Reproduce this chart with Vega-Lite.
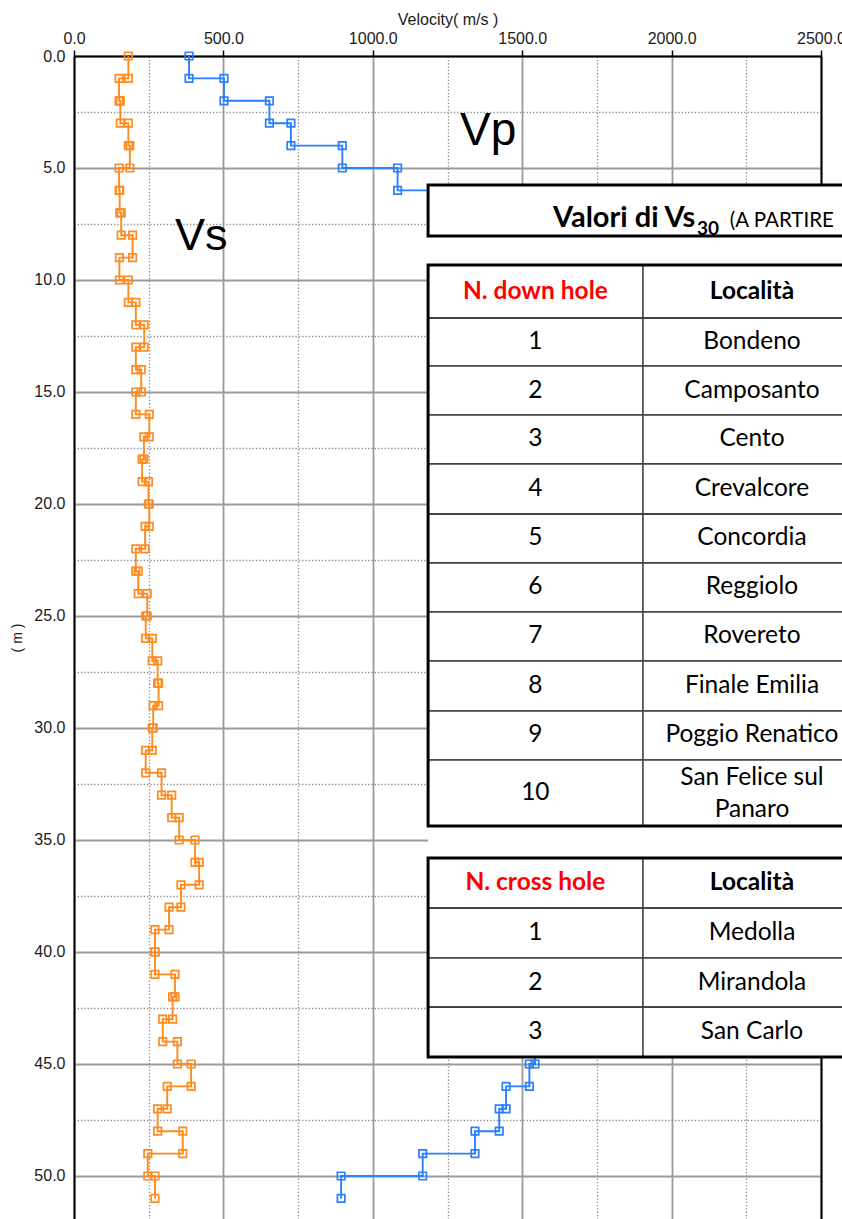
{
  "$schema": "https://vega.github.io/schema/vega-lite/v6.json",
  "width": 747,
  "height": 1163,
  "autosize": {"type": "none"},
  "padding": {"left": 74, "top": 56, "right": 21, "bottom": 0},
  "background": "white",
  "config": {
    "view": {"stroke": null},
    "font": "Liberation Sans",
    "axis": {"labelFont": "Liberation Sans", "titleFont": "Liberation Sans"}
  },
  "datasets": {
    "profile": [
      {"top": 0, "bottom": 1, "vs": 182, "vp": 385},
      {"top": 1, "bottom": 2, "vs": 151, "vp": 502},
      {"top": 2, "bottom": 3, "vs": 155, "vp": 654},
      {"top": 3, "bottom": 4, "vs": 182, "vp": 726},
      {"top": 4, "bottom": 5, "vs": 187, "vp": 898},
      {"top": 5, "bottom": 6, "vs": 151, "vp": 1083},
      {"top": 6, "bottom": 7, "vs": 153, "vp": 1240},
      {"top": 7, "bottom": 8, "vs": 158, "vp": 1265},
      {"top": 8, "bottom": 9, "vs": 196, "vp": 1300},
      {"top": 9, "bottom": 10, "vs": 152, "vp": 1320},
      {"top": 10, "bottom": 11, "vs": 182, "vp": 1355},
      {"top": 11, "bottom": 12, "vs": 207, "vp": 1380},
      {"top": 12, "bottom": 13, "vs": 235, "vp": 1400},
      {"top": 13, "bottom": 14, "vs": 207, "vp": 1415},
      {"top": 14, "bottom": 15, "vs": 225, "vp": 1440},
      {"top": 15, "bottom": 16, "vs": 207, "vp": 1455},
      {"top": 16, "bottom": 17, "vs": 252, "vp": 1470},
      {"top": 17, "bottom": 18, "vs": 234, "vp": 1480},
      {"top": 18, "bottom": 19, "vs": 228, "vp": 1495},
      {"top": 19, "bottom": 20, "vs": 249, "vp": 1500},
      {"top": 20, "bottom": 21, "vs": 252, "vp": 1505},
      {"top": 21, "bottom": 22, "vs": 238, "vp": 1515},
      {"top": 22, "bottom": 23, "vs": 207, "vp": 1510},
      {"top": 23, "bottom": 24, "vs": 215, "vp": 1520},
      {"top": 24, "bottom": 25, "vs": 245, "vp": 1530},
      {"top": 25, "bottom": 26, "vs": 240, "vp": 1525},
      {"top": 26, "bottom": 27, "vs": 262, "vp": 1535},
      {"top": 27, "bottom": 28, "vs": 280, "vp": 1540},
      {"top": 28, "bottom": 29, "vs": 283, "vp": 1545},
      {"top": 29, "bottom": 30, "vs": 265, "vp": 1540},
      {"top": 30, "bottom": 31, "vs": 262, "vp": 1550},
      {"top": 31, "bottom": 32, "vs": 240, "vp": 1555},
      {"top": 32, "bottom": 33, "vs": 293, "vp": 1550},
      {"top": 33, "bottom": 34, "vs": 327, "vp": 1560},
      {"top": 34, "bottom": 35, "vs": 352, "vp": 1565},
      {"top": 35, "bottom": 36, "vs": 405, "vp": 1560},
      {"top": 36, "bottom": 37, "vs": 419, "vp": 1570},
      {"top": 37, "bottom": 38, "vs": 358, "vp": 1565},
      {"top": 38, "bottom": 39, "vs": 318, "vp": 1555},
      {"top": 39, "bottom": 40, "vs": 271, "vp": 1560},
      {"top": 40, "bottom": 41, "vs": 271, "vp": 1550},
      {"top": 41, "bottom": 42, "vs": 338, "vp": 1555},
      {"top": 42, "bottom": 43, "vs": 330, "vp": 1545},
      {"top": 43, "bottom": 44, "vs": 297, "vp": 1550},
      {"top": 44, "bottom": 45, "vs": 346, "vp": 1543},
      {"top": 45, "bottom": 46, "vs": 392, "vp": 1524},
      {"top": 46, "bottom": 47, "vs": 312, "vp": 1446},
      {"top": 47, "bottom": 48, "vs": 280, "vp": 1423},
      {"top": 48, "bottom": 49, "vs": 364, "vp": 1342},
      {"top": 49, "bottom": 50, "vs": 247, "vp": 1167},
      {"top": 50, "bottom": 51, "vs": 271, "vp": 894}
    ],
    "boxes": [
      {"box": "title", "top": 5.76, "bottom": 8.04},
      {"box": "down", "top": 9.33, "bottom": 34.38},
      {"box": "cross", "top": 35.8, "bottom": 44.69}
    ],
    "rows": [
      {"table": "down", "head": true, "top": 9.33, "bottom": 11.7, "c1": "N. down hole", "c2": "Località"},
      {"table": "down", "head": false, "top": 11.7, "bottom": 13.84, "c1": "1", "c2": "Bondeno"},
      {"table": "down", "head": false, "top": 13.84, "bottom": 16.03, "c1": "2", "c2": "Camposanto"},
      {"table": "down", "head": false, "top": 16.03, "bottom": 18.21, "c1": "3", "c2": "Cento"},
      {"table": "down", "head": false, "top": 18.21, "bottom": 20.45, "c1": "4", "c2": "Crevalcore"},
      {"table": "down", "head": false, "top": 20.45, "bottom": 22.63, "c1": "5", "c2": "Concordia"},
      {"table": "down", "head": false, "top": 22.63, "bottom": 24.82, "c1": "6", "c2": "Reggiolo"},
      {"table": "down", "head": false, "top": 24.82, "bottom": 27.01, "c1": "7", "c2": "Rovereto"},
      {"table": "down", "head": false, "top": 27.01, "bottom": 29.24, "c1": "8", "c2": "Finale Emilia"},
      {"table": "down", "head": false, "top": 29.24, "bottom": 31.43, "c1": "9", "c2": "Poggio Renatico"},
      {"table": "down", "head": false, "top": 31.43, "bottom": 34.38, "c1": "10", "c2": ["San Felice sul", "Panaro"]},
      {"table": "cross", "head": true, "top": 35.8, "bottom": 38.04, "c1": "N. cross hole", "c2": "Località"},
      {"table": "cross", "head": false, "top": 38.04, "bottom": 40.27, "c1": "1", "c2": "Medolla"},
      {"table": "cross", "head": false, "top": 40.27, "bottom": 42.46, "c1": "2", "c2": "Mirandola"},
      {"table": "cross", "head": false, "top": 42.46, "bottom": 44.69, "c1": "3", "c2": "San Carlo"}
    ]
  },
  "resolve": {"axis": {"x": "independent", "y": "independent"}},
  "layer": [
    {
      "data": {"name": "profile"},
      "transform": [
        {"fold": ["vs", "vp"], "as": ["series", "velocity"]},
        {"fold": ["top", "bottom"], "as": ["edge", "depth"]}
      ],
      "mark": {"type": "line", "strokeWidth": 1.9, "interpolate": "linear"},
      "encoding": {
        "x": {
          "field": "velocity", "type": "quantitative",
          "scale": {"domain": [0, 2500], "nice": false, "zero": false},
          "axis": {
            "orient": "top", "title": "Velocity( m/s )",
            "values": [0, 500, 1000, 1500, 2000, 2500], "format": ".1f",
            "grid": true, "gridColor": "#9a9a9a", "gridWidth": 1.8,
            "domainColor": "black", "domainWidth": 2,
            "tickColor": "black", "tickWidth": 1.5, "tickSize": 6,
            "labelFontSize": 16, "labelColor": "#1a1a1a", "labelPadding": 4,
            "labelFlush": false, "labelOverlap": false,
            "titleFontSize": 16, "titleFontWeight": "normal", "titleColor": "#1a1a1a", "titlePadding": 3
          }
        },
        "y": {
          "field": "depth", "type": "quantitative",
          "scale": {"domain": [0, 51.92], "reverse": true, "nice": false, "zero": false},
          "axis": {
            "orient": "left", "title": "( m )",
            "values": [0, 5, 10, 15, 20, 25, 30, 35, 40, 45, 50], "format": ".1f",
            "grid": true, "gridColor": "#9a9a9a", "gridWidth": 1.8,
            "domainColor": "black", "domainWidth": 2, "ticks": false,
            "labelFontSize": 16, "labelColor": "#1a1a1a", "labelPadding": 9,
            "labelFlush": false, "labelOverlap": false,
            "titleFontSize": 14, "titleFontWeight": "normal", "titleColor": "#1a1a1a", "titlePadding": 9
          }
        },
        "color": {
          "field": "series", "type": "nominal",
          "scale": {"domain": ["vs", "vp"], "range": ["#ff8a1e", "#2a7fff"]},
          "legend": null
        },
        "order": {"value": null}
      }
    },
    {
      "data": {"name": "profile"},
      "transform": [
        {"fold": ["vs", "vp"], "as": ["series", "velocity"]},
        {"fold": ["top", "bottom"], "as": ["edge", "depth"]}
      ],
      "mark": {"type": "point", "shape": "square", "filled": false, "size": 56, "strokeWidth": 1.7, "opacity": 1},
      "encoding": {
        "x": {"field": "velocity", "type": "quantitative", "scale": {"domain": [0, 2500], "nice": false, "zero": false}, "axis": null},
        "y": {"field": "depth", "type": "quantitative", "scale": {"domain": [0, 51.92], "reverse": true, "nice": false, "zero": false}, "axis": null},
        "color": {"field": "series", "type": "nominal", "scale": {"domain": ["vs", "vp"], "range": ["#ff8a1e", "#2a7fff"]}, "legend": null}
      }
    },
    {
      "data": {"values": [{}]},
      "mark": {"type": "rect", "fill": "white", "stroke": null},
      "encoding": {
        "x": {
          "datum": 1185, "type": "quantitative",
          "scale": {"domain": [0, 2500], "nice": false, "zero": false},
          "axis": {
            "orient": "bottom", "title": null, "values": [250, 750, 1250, 1750, 2250],
            "grid": true, "gridColor": "#8c8c8c", "gridWidth": 1.3, "gridDash": [1.3, 2],
            "labels": false, "ticks": false, "domain": false
          }
        },
        "x2": {"datum": 2640},
        "y": {
          "datum": 5.76, "type": "quantitative",
          "scale": {"domain": [0, 51.92], "reverse": true, "nice": false, "zero": false},
          "axis": {
            "orient": "right", "title": null,
            "values": [2.5, 7.5, 12.5, 17.5, 22.5, 27.5, 32.5, 37.5, 42.5, 47.5],
            "grid": true, "gridColor": "#8c8c8c", "gridWidth": 1.3, "gridDash": [1.3, 2],
            "labels": false, "ticks": false,
            "domain": true, "domainColor": "black", "domainWidth": 2
          }
        },
        "y2": {"datum": 44.69}
      }
    },
    {
      "data": {"name": "rows"},
      "mark": {"type": "rect", "fill": "white", "stroke": "#404040", "strokeWidth": 1.6},
      "encoding": {
        "x": {"datum": 1185, "type": "quantitative", "scale": {"domain": [0, 2500], "nice": false, "zero": false}, "axis": null},
        "x2": {"datum": 2640},
        "y": {"field": "top", "type": "quantitative", "scale": {"domain": [0, 51.92], "reverse": true, "nice": false, "zero": false}, "axis": null},
        "y2": {"field": "bottom"}
      }
    },
    {
      "data": {"name": "boxes"},
      "transform": [{"filter": "datum.box !== 'title'"}],
      "mark": {"type": "rule", "stroke": "#404040", "strokeWidth": 1.6},
      "encoding": {
        "x": {"datum": 1904, "type": "quantitative", "scale": {"domain": [0, 2500], "nice": false, "zero": false}, "axis": null},
        "y": {"field": "top", "type": "quantitative", "scale": {"domain": [0, 51.92], "reverse": true, "nice": false, "zero": false}, "axis": null},
        "y2": {"field": "bottom"}
      }
    },
    {
      "data": {"name": "boxes"},
      "mark": {"type": "rect", "fillOpacity": 0, "stroke": "black", "strokeWidth": 3},
      "encoding": {
        "x": {"datum": 1185, "type": "quantitative", "scale": {"domain": [0, 2500], "nice": false, "zero": false}, "axis": null},
        "x2": {"datum": 2640},
        "y": {"field": "top", "type": "quantitative", "scale": {"domain": [0, 51.92], "reverse": true, "nice": false, "zero": false}, "axis": null},
        "y2": {"field": "bottom"}
      }
    },
    {
      "data": {"name": "rows"},
      "transform": [
        {"filter": "!datum.head"},
        {"calculate": "(datum.top + datum.bottom) / 2", "as": "mid"}
      ],
      "mark": {"type": "text", "font": "Lato", "fontSize": 24.5, "color": "black", "align": "center", "baseline": "middle"},
      "encoding": {
        "x": {"datum": 1544, "type": "quantitative", "scale": {"domain": [0, 2500], "nice": false, "zero": false}, "axis": null},
        "y": {"field": "mid", "type": "quantitative", "scale": {"domain": [0, 51.92], "reverse": true, "nice": false, "zero": false}, "axis": null},
        "text": {"field": "c1", "type": "nominal"}
      }
    },
    {
      "data": {"name": "rows"},
      "transform": [
        {"filter": "!datum.head && !isArray(datum.c2)"},
        {"calculate": "(datum.top + datum.bottom) / 2", "as": "mid"}
      ],
      "mark": {"type": "text", "font": "Lato", "fontSize": 24.5, "color": "black", "align": "center", "baseline": "middle"},
      "encoding": {
        "x": {"datum": 2269, "type": "quantitative", "scale": {"domain": [0, 2500], "nice": false, "zero": false}, "axis": null},
        "y": {"field": "mid", "type": "quantitative", "scale": {"domain": [0, 51.92], "reverse": true, "nice": false, "zero": false}, "axis": null},
        "text": {"field": "c2", "type": "nominal"}
      }
    },
    {
      "data": {"name": "rows"},
      "transform": [
        {"filter": "isArray(datum.c2)"},
        {"calculate": "(datum.top + datum.bottom) / 2", "as": "mid"}
      ],
      "mark": {"type": "text", "font": "Lato", "fontSize": 24.5, "color": "black", "align": "center", "baseline": "middle", "lineHeight": 32, "dy": -15},
      "encoding": {
        "x": {"datum": 2269, "type": "quantitative", "scale": {"domain": [0, 2500], "nice": false, "zero": false}, "axis": null},
        "y": {"field": "mid", "type": "quantitative", "scale": {"domain": [0, 51.92], "reverse": true, "nice": false, "zero": false}, "axis": null},
        "text": {"field": "c2", "type": "nominal"}
      }
    },
    {
      "data": {"name": "rows"},
      "transform": [
        {"filter": "datum.head"},
        {"calculate": "(datum.top + datum.bottom) / 2", "as": "mid"}
      ],
      "mark": {"type": "text", "font": "Lato", "fontSize": 24.5, "fontWeight": "bold", "color": "#ff0000", "align": "center", "baseline": "middle"},
      "encoding": {
        "x": {"datum": 1544, "type": "quantitative", "scale": {"domain": [0, 2500], "nice": false, "zero": false}, "axis": null},
        "y": {"field": "mid", "type": "quantitative", "scale": {"domain": [0, 51.92], "reverse": true, "nice": false, "zero": false}, "axis": null},
        "text": {"field": "c1", "type": "nominal"}
      }
    },
    {
      "data": {"name": "rows"},
      "transform": [
        {"filter": "datum.head"},
        {"calculate": "(datum.top + datum.bottom) / 2", "as": "mid"}
      ],
      "mark": {"type": "text", "font": "Lato", "fontSize": 24.5, "fontWeight": "bold", "color": "black", "align": "center", "baseline": "middle"},
      "encoding": {
        "x": {"datum": 2269, "type": "quantitative", "scale": {"domain": [0, 2500], "nice": false, "zero": false}, "axis": null},
        "y": {"field": "mid", "type": "quantitative", "scale": {"domain": [0, 51.92], "reverse": true, "nice": false, "zero": false}, "axis": null},
        "text": {"field": "c2", "type": "nominal"}
      }
    },
    {
      "data": {"values": [{}]},
      "mark": {"type": "text", "text": "Valori di Vs", "font": "Lato", "fontSize": 29, "fontWeight": "bold", "color": "black", "align": "left", "baseline": "alphabetic"},
      "encoding": {
        "x": {"datum": 1603, "type": "quantitative", "scale": {"domain": [0, 2500], "nice": false, "zero": false}, "axis": null},
        "y": {"datum": 7.63, "type": "quantitative", "scale": {"domain": [0, 51.92], "reverse": true, "nice": false, "zero": false}, "axis": null}
      }
    },
    {
      "data": {"values": [{}]},
      "mark": {"type": "text", "text": "30", "font": "Lato", "fontSize": 19, "fontWeight": "bold", "color": "black", "align": "left", "baseline": "alphabetic"},
      "encoding": {
        "x": {"datum": 2085, "type": "quantitative", "scale": {"domain": [0, 2500], "nice": false, "zero": false}, "axis": null},
        "y": {"datum": 8.0, "type": "quantitative", "scale": {"domain": [0, 51.92], "reverse": true, "nice": false, "zero": false}, "axis": null}
      }
    },
    {
      "data": {"values": [{}]},
      "mark": {"type": "text", "text": "(A PARTIRE", "font": "Lato", "fontSize": 20.5, "color": "black", "align": "left", "baseline": "alphabetic"},
      "encoding": {
        "x": {"datum": 2195, "type": "quantitative", "scale": {"domain": [0, 2500], "nice": false, "zero": false}, "axis": null},
        "y": {"datum": 7.63, "type": "quantitative", "scale": {"domain": [0, 51.92], "reverse": true, "nice": false, "zero": false}, "axis": null}
      }
    },
    {
      "data": {"values": [{}]},
      "mark": {"type": "text", "text": "Vs", "font": "Liberation Sans", "fontSize": 45, "color": "black", "align": "left", "baseline": "alphabetic"},
      "encoding": {
        "x": {"datum": 338, "type": "quantitative", "scale": {"domain": [0, 2500], "nice": false, "zero": false}, "axis": null},
        "y": {"datum": 8.66, "type": "quantitative", "scale": {"domain": [0, 51.92], "reverse": true, "nice": false, "zero": false}, "axis": null}
      }
    },
    {
      "data": {"values": [{}]},
      "mark": {"type": "text", "text": "Vp", "font": "Liberation Sans", "fontSize": 46, "color": "black", "align": "left", "baseline": "alphabetic"},
      "encoding": {
        "x": {"datum": 1292, "type": "quantitative", "scale": {"domain": [0, 2500], "nice": false, "zero": false}, "axis": null},
        "y": {"datum": 3.97, "type": "quantitative", "scale": {"domain": [0, 51.92], "reverse": true, "nice": false, "zero": false}, "axis": null}
      }
    }
  ]
}
